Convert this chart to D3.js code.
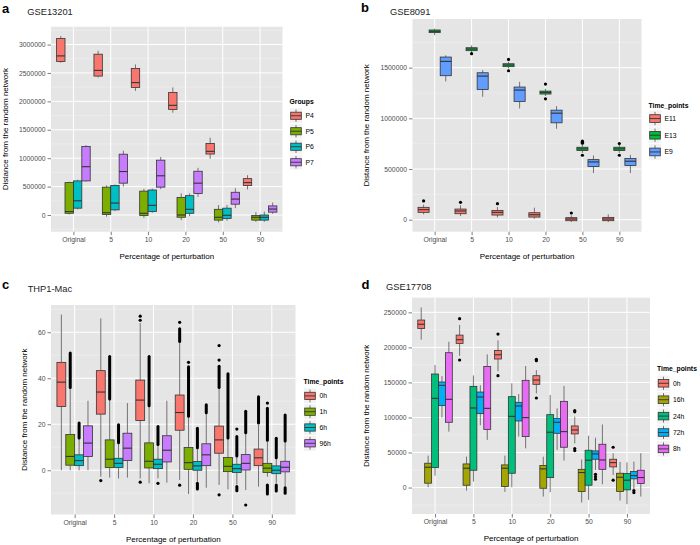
<!DOCTYPE html>
<html><head><meta charset="utf-8">
<script src="https://cdn.jsdelivr.net/npm/d3@7"></script>
<style>body{margin:0;background:#fff}svg{display:block}text{font-family:"Liberation Sans",Arial,Helvetica,sans-serif}</style>
</head><body><svg id="chart" width="700" height="545"></svg>
<script>
// ---------- DATA ----------
const categories = ["Original","5","10","20","50","90"];

// Panel a: GSE13201  (stats per category: [lowWhisker, q1, median, q3, highWhisker])
const aGroups = ["P4","P5","P6","P7"];
const aColors = ["#F8766D","#7CAE00","#00BFC4","#C77CFF"];
const aTicks = [0,500000,1000000,1500000,2000000,2500000,3000000];
const aP4 = [[2680000,2700000,2800000,3105000,3150000],[2420000,2445000,2545000,2830000,2890000],[2185000,2245000,2330000,2580000,2650000],[1800000,1858000,1930000,2157000,2245000],[990000,1073000,1120000,1260000,1360000],[450000,520000,570000,640000,700000]];
const aP5 = [[10000,30000,60000,570000,585000],[-30000,10000,40000,490000,520000],[-50000,-10000,30000,420000,460000],[-90000,-40000,0,310000,380000],[-130000,-90000,-40000,100000,175000],[-120000,-90000,-40000,-10000,50000]];
const aP6 = [[100000,120000,250000,600000,620000],[70000,90000,210000,520000,535000],[40000,60000,170000,440000,465000],[-20000,30000,100000,340000,380000],[-100000,-60000,-5000,120000,175000],[-120000,-90000,-40000,0,60000]];
const aP7 = [[590000,600000,850000,1205000,1230000],[500000,560000,765000,1070000,1130000],[455000,490000,690000,965000,1020000],[320000,380000,560000,770000,830000],[120000,190000,280000,400000,470000],[20000,50000,105000,160000,220000]];

// Panel b: GSE8091
const bGroups = ["E11","E13","E9"];
const bColors = ["#F8766D","#00BA38","#619CFF"];
const bTicks = [0,500000,1000000,1500000];
const bE11 = [[53000,72500,99000,122000,148000],[36000,59000,86000,105000,142000],[23000,46000,72500,92000,125000],[10000,26000,49000,69000,119000],[-23000,-10000,7000,20000,43000],[-23000,-10000,7000,23000,53000]];
const bE11out = [[185000],[171000],[158000],[],[66000],[]];
const bE13 = [[1820000,1846000,1859000,1872000,1885000],[1655000,1668000,1684000,1697000,1720000],[1493000,1510000,1526000,1539000,1559000],[1220000,1240000,1256000,1269000,1292000],[659000,682000,699000,715000,742000],[659000,682000,699000,715000,742000]];
const bE13out = [[],[1638000],[1582000,1470000],[1338000,1193000],[775000,765000,755000,636000],[752000,636000]];
const bE9 = [[1365000,1421000,1562000,1605000,1622000],[1213000,1285000,1417000,1450000,1477000],[1098000,1167000,1279000,1309000,1361000],[897000,956000,1051000,1081000,1121000],[461000,524000,570000,593000,633000],[461000,534000,577000,603000,639000]];

// Panel c: THP1-Mac  (runs = dense columns of outliers [from, to])
const cGroups = ["0h","1h","6h","96h"];
const cColors = ["#F8766D","#7CAE00","#00BFC4","#C77CFF"];
const cTicks = [0,20,40,60];
const c0h = [[0,27.7,38.3,46.9,67.7],[-2.8,24.4,34,43.3,66],[-3.6,21.6,30.5,39.2,64],[-4.2,17.4,25.1,32.7,55.3],[-6.4,7.4,13.2,19.2,35.5],[-7.1,2.0,5.4,9.2,19.8]];
const c0hOut = [[],[-4.5],[67,65.2,-5.2],[64.3,-6.5],[54.2,47.9,-10.7],[]];
const c0hRuns = [[],[],[],[[56,61.5]],[[36,45.2]],[[20.5,32]]];
const c1h = [[0,2.2,6.0,15.5,35.7],[-3.2,1.2,4.8,13.2,30.6],[-5.7,1.0,3.9,11.9,27.7],[-10.3,0.4,3.3,9.9,23.4],[-8.3,-0.6,1.7,5.5,13.9],[-2.8,-1.0,0.9,3.0,12.5]];
const c1hOut = [[],[],[],[46.9],[],[29.2]];
const c1hRuns = [[[36,51]],[[31,49.5]],[[28,49.5]],[[23.5,45]],[[14,42]],[[13,27],[-10.3,-6.4]]];
const c6h = [[0,2.0,4.2,6.7,13.9],[-3.6,1.2,3.0,5.2,11.8],[-3.5,0.7,2.6,4.8,11],[-5.0,0,1.9,3.8,9.6],[-6.2,-1.0,0.7,2.6,6.0],[-5.5,-1.5,0,1.9,5.2]];
const c6hOut = [[],[],[-5.7],[],[17.9],[]];
const c6hRuns = [[[14,20.5]],[[12,19.8]],[[11.2,19]],[[9.8,18.3],[-8.1,-5.7]],[[6.2,14.7],[-8.9,-7.1]],[[5.4,13.9],[-9,-6.4]]];
const c96h = [[0,6.0,11.8,19.3,30.2],[-3.2,4.2,9.6,16.1,29.2],[-5.4,3.6,8.7,15,30.2],[-7.6,2.0,6.7,11.5,24.8],[-8.6,0.1,3.0,6.8,16.1],[-7.2,-0.7,1.3,3.9,12.5]];
const c96hOut = [[],[],[],[],[-15.1],[]];
const c96hRuns = [[],[],[],[[25,28.5]],[[16.3,25.6]],[[12.7,24],[-10,-7.6]]];

// Panel d: GSE17708
const dGroups = ["0h","16h","24h","72h","8h"];
const dColors = ["#F8766D","#A3A500","#00BF7D","#00B0F6","#E76BF3"];
const dTicks = [0,50000,100000,150000,200000,250000];
const d0h = [[211000,227000,233000,239000,257000],[188000,205700,211000,217500,232000],[166000,183400,189500,195700,210000],[134400,147300,153400,159600,167700],[63000,76500,82200,87900,101000],[18000,29500,35600,40400,48900]];
const d0hOut = [[],[241000,182000],[219000,159600],[183000,181000,127800],[109700,108000,55600,52700],[57500,10500]];
const d16h = [[500,6200,29000,34700,45600],[-4300,3300,27600,33700,44200],[-6200,1400,27600,32300,45600],[-12800,-1000,26600,31400,44000],[-21400,-5700,21400,26000,40000],[-18500,-5700,14700,20400,36600]];
const d24h = [[17000,28500,127300,162000,174800],[8500,24700,113500,144400,160000],[500,20400,101600,129700,148700],[-6700,14200,78900,104000,132000],[-17600,3300,39000,53200,74000],[-23700,-3300,10500,20000,36000]];
const d72h = [[99800,116900,145800,150600,159000],[88800,105500,129200,136300,146000],[72700,95000,116400,121600,133500],[53700,77400,93100,98800,113000],[25000,40400,48000,52300,71000],[-2000,12400,17000,22800,37000]];
const d72hOut = [[],[],[],[],[19000,15500,12000],[-4300,-7100]];
const d8h = [[79800,93100,125900,192400,208000],[68000,83000,113000,172900,190000],[56000,72700,99800,153000,173400],[38500,57500,79800,123000,145000],[4800,26000,39400,61800,90000],[-12800,5700,14300,24700,49000]];

const xTitle = "Percentage of perturbation";
const yTitle = "Distance from the random network";

// ---------- DRAW ----------
const svg = d3.select("#chart");
svg.append("rect").attr("width",700).attr("height",545).attr("fill","#fff");
const empty = categories.map(()=>[]);

function drawPanel(p){
  const g = svg.append("g");
  const n = p.groups.length;
  const all = [];
  p.stats.forEach((s,j)=>{
    s.forEach(r=>all.push(...r));
    (p.out[j]||empty).forEach(r=>all.push(...r));
    (p.runs[j]||empty).forEach(r=>r.forEach(q=>all.push(...q)));
  });
  const [mn,mx] = d3.extent(all);
  const pad = (mx-mn)*0.05;
  const y = d3.scaleLinear().domain([mn-pad, mx+pad]).range([p.y1,p.y0]);
  const x = d3.scalePoint().domain(categories).range([p.x0,p.x1]).padding(0.6);
  const step = x.step();

  g.append("rect").attr("x",p.x0).attr("y",p.y0).attr("width",p.x1-p.x0).attr("height",p.y1-p.y0).attr("fill","#E5E5E5");
  // minor grid
  const tk = p.ticks, st = tk[1]-tk[0];
  const minor = [];
  for(let v = tk[0]-st*1.5; v <= tk[tk.length-1]+st*1.5; v += st){ if(v>y.domain()[0] && v<y.domain()[1]) minor.push(v); }
  g.selectAll(".mn").data(minor).join("line").attr("x1",p.x0).attr("x2",p.x1)
    .attr("y1",d=>y(d)).attr("y2",d=>y(d)).attr("stroke","#F2F2F2").attr("stroke-width",0.5);
  g.selectAll(".mj").data(tk).join("line").attr("x1",p.x0).attr("x2",p.x1)
    .attr("y1",d=>y(d)).attr("y2",d=>y(d)).attr("stroke","#fff").attr("stroke-width",1);
  g.selectAll(".vx").data(categories).join("line").attr("y1",p.y0).attr("y2",p.y1)
    .attr("x1",d=>x(d)).attr("x2",d=>x(d)).attr("stroke","#fff").attr("stroke-width",1);

  // axes
  const ya = g.append("g").attr("transform",`translate(${p.x0},0)`)
    .call(d3.axisLeft(y).tickValues(tk).tickSize(3.5).tickPadding(2).tickFormat(d3.format("d")));
  const xa = g.append("g").attr("transform",`translate(0,${p.y1})`)
    .call(d3.axisBottom(x).tickSize(3.5).tickPadding(2));
  [ya,xa].forEach(a=>{
    a.select(".domain").remove();
    a.selectAll("line").attr("stroke","#7F7F7F");
    a.selectAll("text").attr("fill","#4D4D4D").attr("font-size",6.8).attr("font-family",'"Liberation Sans",Arial,sans-serif');
  });

  const w = 0.9/n;
  p.stats.forEach((s,j)=>{
    const off = (-0.45 + w*(j+0.5))*step, bw = w*step;
    s.forEach((r,i)=>{
      const cx = x(categories[i]) + off;
      const [lo,q1,md,q3,hi] = r;
      g.append("line").attr("x1",cx).attr("x2",cx).attr("y1",y(hi)).attr("y2",y(q3)).attr("stroke","#666").attr("stroke-width",0.9);
      g.append("line").attr("x1",cx).attr("x2",cx).attr("y1",y(q1)).attr("y2",y(lo)).attr("stroke","#666").attr("stroke-width",0.9);
      const runs = (p.runs[j]||empty)[i]||[];
      runs.forEach(rr=>{
        g.append("line").attr("x1",cx).attr("x2",cx).attr("y1",y(rr[0])).attr("y2",y(rr[1]))
          .attr("stroke","#000").attr("stroke-width",3).attr("stroke-linecap","round");
      });
      ((p.out[j]||empty)[i]||[]).forEach(v=>{
        g.append("circle").attr("cx",cx).attr("cy",y(v)).attr("r",1.6).attr("fill","#000");
      });
      g.append("rect").attr("x",cx-bw/2).attr("width",bw).attr("y",y(q3)).attr("height",Math.max(0.5,y(q1)-y(q3)))
        .attr("fill",p.colors[j]).attr("stroke","#333").attr("stroke-width",0.8);
      g.append("line").attr("x1",cx-bw/2).attr("x2",cx+bw/2).attr("y1",y(md)).attr("y2",y(md)).attr("stroke","#333").attr("stroke-width",1.1);
    });
  });

  // titles
  g.append("text").attr("x",p.lx).attr("y",p.ly).attr("font-size",13).attr("font-weight","bold").attr("fill","#000").text(p.letter);
  g.append("text").attr("x",p.tx).attr("y",p.ty).attr("font-size",9.3).attr("fill","#222").text(p.title);
  g.append("text").attr("x",(p.x0+p.x1)/2).attr("y",p.y1+27).attr("text-anchor","middle").attr("font-size",8).attr("fill","#000").text(xTitle);
  g.append("text").attr("transform",`translate(${p.yx},${(p.y0+p.y1)/2}) rotate(-90)`).attr("text-anchor","middle").attr("font-size",8).attr("fill","#000").text(yTitle);

  // legend
  const L = p.legend;
  g.append("text").attr("x",L.x).attr("y",L.ty).attr("font-size",6.8).attr("font-weight","bold").attr("fill","#000").text(p.legendTitle);
  p.groups.forEach((name,j)=>{
    const ky = L.top + j*L.h, kw = 13;
    const kg = g.append("g");
    kg.append("rect").attr("x",L.x).attr("y",ky).attr("width",kw).attr("height",L.h).attr("fill","#F2F2F2").attr("stroke","#fff").attr("stroke-width",0.8);
    const cx = L.x+kw/2;
    kg.append("line").attr("x1",cx).attr("x2",cx).attr("y1",ky+L.h*0.1).attr("y2",ky+L.h*0.9).attr("stroke","#666").attr("stroke-width",0.9);
    kg.append("rect").attr("x",L.x+1.2).attr("y",ky+L.h*0.27).attr("width",kw-2.4).attr("height",L.h*0.46)
      .attr("fill",p.colors[j]).attr("stroke","#333").attr("stroke-width",0.8);
    kg.append("line").attr("x1",L.x+1.2).attr("x2",L.x+kw-1.2).attr("y1",ky+L.h/2).attr("y2",ky+L.h/2).attr("stroke","#333").attr("stroke-width",0.9);
    kg.append("text").attr("x",L.x+kw+3).attr("y",ky+L.h/2+2.4).attr("font-size",6.8).attr("fill","#000").text(name);
  });
}

drawPanel({x0:51,x1:282.5,y0:26.7,y1:231.7,ticks:aTicks,groups:aGroups,colors:aColors,
  stats:[aP4,aP5,aP6,aP7],out:[],runs:[],letter:"a",lx:2,ly:12.5,title:"GSE13201",tx:27.3,ty:15,yx:7.5,
  legendTitle:"Groups",legend:{x:289.5,ty:104,top:108,h:15.5}});
drawPanel({x0:412.5,x1:641.5,y0:19,y1:231.7,ticks:bTicks,groups:bGroups,colors:bColors,
  stats:[bE11,bE13,bE9],out:[bE11out,bE13out,[]],runs:[],letter:"b",lx:361,ly:12,title:"GSE8091",tx:390,ty:15,yx:368.5,
  legendTitle:"Time_points",legend:{x:648.5,ty:107.5,top:110.2,h:16.7}});
drawPanel({x0:51,x1:295.5,y0:305,y1:514.5,ticks:cTicks,groups:cGroups,colors:cColors,
  stats:[c0h,c1h,c6h,c96h],out:[c0hOut,c1hOut,c6hOut,c96hOut],runs:[c0hRuns,c1hRuns,c6hRuns,c96hRuns],letter:"c",lx:2,ly:288.5,title:"THP1-Mac",tx:27.7,ty:291.5,yx:26.7,
  legendTitle:"Time_points",legend:{x:303.5,ty:384,top:388,h:15.8}});
drawPanel({x0:412,x1:650,y0:297.6,y1:514,ticks:dTicks,groups:dGroups,colors:dColors,
  stats:[d0h,d16h,d24h,d72h,d8h],out:[d0hOut,[],[],d72hOut,[]],runs:[],letter:"d",lx:361.5,ly:288.5,title:"GSE17708",tx:386,ty:290,yx:368.5,
  legendTitle:"Time_points",legend:{x:657,ty:370.7,top:375.1,h:16.4}});
</script>
</body></html>
